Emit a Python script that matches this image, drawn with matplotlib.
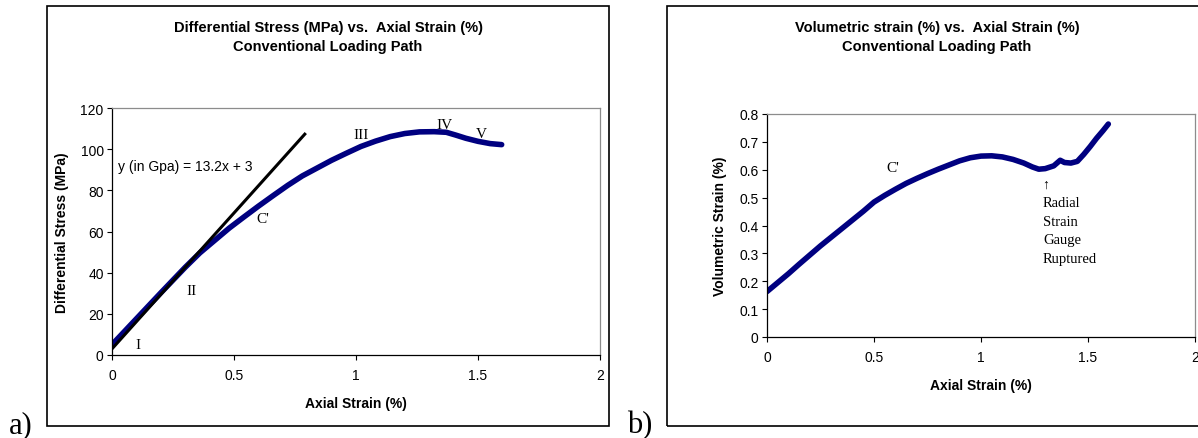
import numpy as np
import matplotlib.pyplot as plt
from matplotlib.patches import Rectangle

plt.rcParams['font.family'] = ['Liberation Sans', 'DejaVu Sans']

# a) differential stress vs axial strain
strain_a = [0.0, 0.05, 0.1, 0.15, 0.2, 0.25, 0.3, 0.36, 0.42, 0.48, 0.54, 0.6, 0.66,
            0.72, 0.78, 0.84, 0.9, 0.96, 1.02, 1.08, 1.14, 1.2, 1.26, 1.32, 1.37,
            1.41, 1.45, 1.5, 1.55, 1.597]
stress_a = [5.0, 11.3, 17.6, 23.9, 30.2, 36.4, 42.6, 49.6, 55.6, 61.6, 67.0, 72.3, 77.4,
            82.4, 87.0, 90.8, 94.6, 98.0, 101.3, 103.9, 106.1, 107.6, 108.4, 108.5, 108.2,
            106.8, 105.3, 103.8, 102.7, 102.2]
fit_x = [0.0, 0.79]
fit_slope = 132.0   # MPa per % strain (13.2 GPa)
fit_icpt = 3.0
labels_a = ["I", "II", "III", "IV", "V", "C'"]
labels_a_x = [0.105, 0.327, 1.019, 1.361, 1.515, 0.62]
labels_a_y = [5.3, 31.2, 106.9, 112.2, 107.4, 66.4]

# b) volumetric strain vs axial strain
strain_b = [0.0, 0.05, 0.1, 0.15, 0.2, 0.25, 0.3, 0.35, 0.4, 0.45, 0.5, 0.55, 0.6, 0.65,
            0.7, 0.75, 0.8, 0.85, 0.9, 0.95, 1.0, 1.05, 1.1, 1.15, 1.2, 1.24, 1.27, 1.3,
            1.34, 1.37, 1.39, 1.42, 1.45, 1.48, 1.51, 1.54, 1.57, 1.595]
vol_b = [0.163, 0.195, 0.227, 0.261, 0.294, 0.327, 0.358, 0.389, 0.420, 0.451, 0.484,
         0.508, 0.530, 0.551, 0.569, 0.586, 0.602, 0.617, 0.632, 0.643, 0.649, 0.650,
         0.646, 0.637, 0.624, 0.610, 0.602, 0.604, 0.614, 0.634, 0.626, 0.624, 0.630,
         0.655, 0.683, 0.713, 0.740, 0.764]

W, H = 1198, 439
fig = plt.figure(figsize=(W / 100, H / 100), dpi=100)


def px(x0, y0, x1, y1):
    return [x0 / W, 1 - y1 / H, (x1 - x0) / W, (y1 - y0) / H]


def style(ax):
    for s in ['left', 'bottom']:
        ax.spines[s].set_color('black')
        ax.spines[s].set_linewidth(0.9)
    for s in ['top', 'right']:
        ax.spines[s].set_color('#8c8c8c')
        ax.spines[s].set_linewidth(0.9)
    ax.tick_params(axis='both', direction='out', length=3.5, width=0.8, labelsize=10)
    ax.tick_params(axis='y', pad=2.5)
    ax.tick_params(axis='x', pad=6)
    ax.set_xlim(0, 2)
    ax.set_xticks([0, 0.5, 1, 1.5, 2])
    ax.set_xticklabels(["0", "0.5", "1", "1.5", "2"])


serif = ['Liberation Serif', 'DejaVu Serif']

# outer frames
fig.patches.append(Rectangle((47 / W, 1 - 427 / H), 562 / W, 420 / H, transform=fig.transFigure,
                             fill=False, edgecolor='black', linewidth=1.2))
fig.patches.append(Rectangle((667 / W, 1 - 427 / H), 540 / W, 420 / H, transform=fig.transFigure,
                             fill=False, edgecolor='black', linewidth=1.2))

# panel a
ax1 = fig.add_axes(px(112, 109, 600, 356))
style(ax1)
ax1.plot(strain_a, stress_a, color='#000080', lw=4, solid_capstyle='round', zorder=2)
fx = np.array(fit_x)
ax1.plot(fx, fit_slope * fx + fit_icpt, color='black', lw=2.2, zorder=3)
ax1.set_ylim(0, 120)
ax1.set_yticks(range(0, 121, 20))
ax1.text(0.026, 91.7, "y (in Gpa) = 13.2x + 3", fontsize=10, va='center', ha='left')
for t, lx, ly in zip(labels_a, labels_a_x, labels_a_y):
    ax1.text(lx, ly, t, family=serif, fontsize=11, ha='center', va='center')
ax1.set_xlabel("Axial Strain (%)", fontsize=10, fontweight='bold')
ax1.xaxis.set_label_coords(0.5, -0.166)
ax1.set_ylabel("Differential Stress (MPa)", fontsize=10, fontweight='bold')
ax1.yaxis.set_label_coords(-0.088, 0.5)
fig.text(328 / W, 1 - 28 / H, "Differential Stress (MPa) vs.  Axial Strain (%)",
         fontsize=10.5, fontweight='bold', ha='center', va='center')
fig.text(328 / W, 1 - 47 / H, "Conventional Loading Path",
         fontsize=10.5, fontweight='bold', ha='center', va='center')

# panel b
ax2 = fig.add_axes(px(767, 115, 1195, 338))
style(ax2)
ax2.plot(strain_b, vol_b, color='#000080', lw=4, solid_capstyle='round')
ax2.set_ylim(0, 0.8)
ax2.set_yticks(np.arange(0, 0.81, 0.1))
ax2.set_yticklabels(["0", "0.1", "0.2", "0.3", "0.4", "0.5", "0.6", "0.7", "0.8"])
ax2.text(0.59, 0.609, "C'", family=serif, fontsize=11, ha='center', va='center')
ax2.text(1.30, 0.549, "\u2191", family=serif, fontsize=10, ha='center', va='center')
ax2.text(1.29, 0.505, "Radial\nStrain\nGauge\nRuptured", family=serif,
         fontsize=10.5, ha='left', va='top', linespacing=1.55)
ax2.set_xlabel("Axial Strain (%)", fontsize=10, fontweight='bold')
ax2.xaxis.set_label_coords(0.5, -0.184)
ax2.set_ylabel("Volumetric Strain (%)", fontsize=10, fontweight='bold')
ax2.yaxis.set_label_coords(-0.093, 0.5)
fig.text(937 / W, 1 - 28 / H, "Volumetric strain (%) vs.  Axial Strain (%)",
         fontsize=10.5, fontweight='bold', ha='center', va='center')
fig.text(937 / W, 1 - 47 / H, "Conventional Loading Path",
         fontsize=10.5, fontweight='bold', ha='center', va='center')

# panel letters
fig.text(9 / W, 1 - 433 / H, "a)", family=serif, fontsize=22, ha='left', va='baseline')
fig.text(627 / W, 1 - 433 / H, "b)", family=serif, fontsize=22, ha='left', va='baseline')

fig.savefig("out.png", dpi=100)
